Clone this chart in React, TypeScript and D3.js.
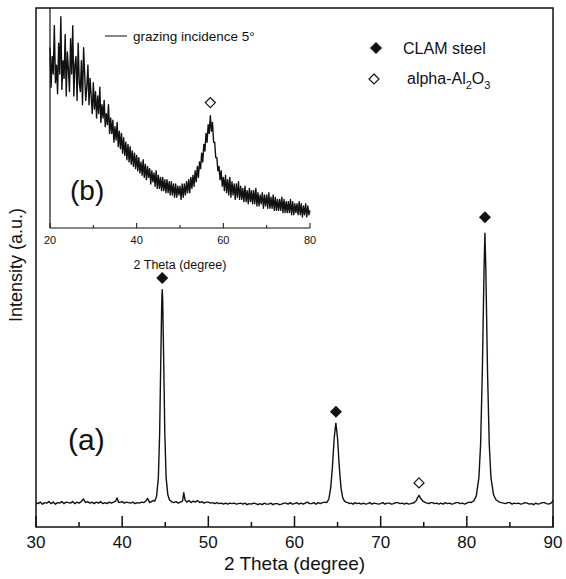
import React from "react";
import * as d3 from "d3";

// Main pattern: [2theta, intensity]
const mainPattern: [number, number][] = [
  [30.0, 47], [30.25, 45], [30.5, 48], [30.75, 44], [31.0, 47], [31.25, 46], [31.5, 49], [31.75, 45],
  [32.0, 48], [32.25, 44], [32.5, 47], [32.75, 46], [33.0, 49], [33.25, 45], [33.5, 48], [33.75, 47],
  [34.0, 46], [34.25, 49], [34.5, 45], [34.75, 48], [35.0, 46], [35.25, 49], [35.5, 54], [35.75, 47],
  [36.0, 49], [36.25, 46], [36.5, 48], [36.75, 45], [37.0, 48], [37.25, 46], [37.5, 49], [37.75, 45],
  [38.0, 47], [38.25, 45], [38.5, 48], [38.75, 46], [39.0, 48], [39.25, 50], [39.4, 56], [39.6, 47],
  [40.0, 49], [40.25, 46], [40.5, 48], [40.75, 47], [41.0, 46], [41.25, 48], [41.5, 45], [41.75, 47],
  [42.0, 46], [42.25, 48], [42.5, 47], [42.75, 50], [42.95, 55], [43.2, 47], [43.4, 49], [43.6, 51],
  [43.8, 50], [44.0, 60], [44.2, 95], [44.35, 180], [44.5, 340], [44.6, 440], [44.65, 457],
  [44.7, 440], [44.8, 340], [44.95, 180], [45.1, 95], [45.3, 62], [45.5, 52], [45.8, 48],
  [46.0, 47], [46.25, 49], [46.5, 46], [46.75, 48], [47.0, 50], [47.15, 66], [47.3, 52], [47.5, 48],
  [47.75, 51], [48.0, 47], [48.25, 50], [48.5, 48], [48.75, 51], [49.0, 47], [49.25, 49], [49.5, 46],
  [49.75, 48], [50.0, 48], [50.25, 46], [50.5, 47], [50.75, 45], [51.0, 47], [51.25, 45], [51.5, 46],
  [51.75, 44], [52.0, 46], [52.25, 44], [52.5, 46], [52.75, 45], [53.0, 46], [53.25, 44], [53.5, 45],
  [53.75, 46], [54.0, 44], [54.25, 46], [54.5, 43], [54.75, 45], [55.0, 44], [55.25, 46], [55.5, 45],
  [55.75, 43], [56.0, 45], [56.25, 43], [56.5, 46], [56.75, 44], [57.0, 44], [57.25, 46], [57.5, 43],
  [57.75, 45], [58.0, 45], [58.25, 43], [58.5, 44], [58.75, 46], [59.0, 46], [59.25, 44], [59.5, 47],
  [59.75, 44], [60.0, 45], [60.25, 47], [60.5, 44], [60.75, 46], [61.0, 44], [61.25, 46], [61.5, 48],
  [61.75, 45], [62.0, 45], [62.25, 47], [62.5, 44], [62.75, 47], [63.0, 45], [63.25, 47], [63.5, 48],
  [63.65, 47],
  [63.8, 48], [64.0, 55], [64.2, 75], [64.4, 115], [64.6, 170], [64.8, 200], [65.0, 170],
  [65.2, 115], [65.4, 75], [65.6, 56], [65.8, 50], [66.0, 48], [66.2, 47],
  [66.4, 45], [66.6, 46], [66.8, 44], [67.0, 47], [67.25, 45], [67.5, 46], [67.75, 44], [68.0, 46],
  [68.25, 44], [68.5, 45], [68.75, 47], [69.0, 44], [69.25, 46], [69.5, 45], [69.75, 44], [70.0, 45],
  [70.25, 47], [70.5, 44], [70.75, 46], [71.0, 46], [71.25, 44], [71.5, 45], [71.75, 47], [72.0, 47],
  [72.25, 45], [72.5, 46], [72.75, 44], [73.0, 46], [73.25, 44], [73.5, 45], [73.65, 46],
  [73.8, 46], [74.1, 50], [74.3, 57], [74.45, 61], [74.6, 56], [74.9, 50], [75.2, 47],
  [75.4, 46], [75.6, 45], [75.8, 47], [76.0, 47], [76.25, 45], [76.5, 46], [76.75, 44], [77.0, 46],
  [77.25, 44], [77.5, 47], [77.75, 45], [78.0, 46], [78.25, 44], [78.5, 45], [78.75, 47], [79.0, 47],
  [79.25, 45], [79.5, 46], [79.75, 44], [80.0, 46], [80.25, 48], [80.5, 47], [80.65, 49],
  [80.8, 50], [81.1, 60], [81.4, 95], [81.6, 160], [81.8, 300], [82.0, 500], [82.1, 566],
  [82.2, 500], [82.4, 300], [82.6, 160], [82.8, 95], [83.1, 62], [83.4, 52], [83.8, 48],
  [84.0, 47], [84.25, 46], [84.5, 45], [84.75, 47], [85.0, 47], [85.25, 44], [85.5, 46], [85.75, 45],
  [86.0, 46], [86.25, 44], [86.5, 45], [86.75, 47], [87.0, 46], [87.25, 44], [87.5, 45], [87.75, 43],
  [88.0, 46], [88.25, 44], [88.5, 45], [88.75, 47], [89.0, 47], [89.25, 45], [89.5, 44], [89.75, 46],
  [89.9, 48], [90.0, 52],
];

// Inset pattern (grazing incidence 5°)
const insetPattern: [number, number][] = [
  [20.0, 82], [20.25, 64], [20.5, 78], [20.75, 70], [21.0, 92], [21.25, 66], [21.5, 74], [21.75, 61],
  [22.0, 84], [22.25, 70], [22.5, 96], [22.75, 63], [23.0, 76], [23.25, 68], [23.5, 88], [23.75, 60],
  [24.0, 80], [24.25, 72], [24.5, 62], [24.75, 86], [25.0, 70], [25.25, 92], [25.5, 60], [25.75, 74],
  [26.0, 78], [26.25, 58], [26.5, 84], [26.75, 66], [27.0, 62], [27.25, 76], [27.5, 56], [27.75, 82],
  [28.0, 70], [28.25, 58], [28.5, 64], [28.75, 74], [29.0, 56], [29.25, 68], [29.5, 60], [29.75, 52],
  [30.0, 66], [30.25, 54], [30.5, 62], [30.75, 50], [31.0, 60], [31.25, 52], [31.5, 64], [31.75, 48],
  [32.0, 56], [32.25, 50], [32.5, 58], [32.75, 46], [33.0, 52], [33.25, 47], [33.5, 56], [33.75, 43],
  [34.0, 50], [34.25, 43], [34.5, 49], [34.75, 39], [35.0, 46], [35.25, 40], [35.5, 48], [35.75, 37],
  [36.0, 44], [36.25, 36], [36.5, 43], [36.75, 34], [37.0, 41], [37.25, 33], [37.5, 39], [37.75, 31],
  [38.0, 38], [38.25, 30], [38.5, 37], [38.75, 29], [39.0, 35], [39.25, 28], [39.5, 34], [39.75, 27],
  [40.0, 33], [40.25, 26], [40.5, 32], [40.75, 25], [41.0, 30], [41.25, 24], [41.5, 31], [41.75, 23],
  [42.0, 29], [42.25, 22], [42.5, 28], [42.75, 23], [43.0, 27], [43.25, 20], [43.5, 26], [43.75, 21],
  [44.0, 25], [44.25, 19], [44.5, 26], [44.75, 18], [45.0, 24], [45.25, 18], [45.5, 23], [45.75, 17],
  [46.0, 23], [46.25, 17], [46.5, 22], [46.75, 16], [47.0, 22], [47.25, 16], [47.5, 21], [47.75, 15],
  [48.0, 21], [48.25, 15], [48.5, 20], [48.75, 14], [49.0, 20], [49.25, 14], [49.5, 19], [49.75, 15],
  [50.0, 19], [50.25, 13], [50.5, 20], [50.75, 14], [51.0, 20], [51.25, 15], [51.5, 21], [51.75, 16],
  [52.0, 22], [52.25, 16], [52.5, 23], [52.75, 18], [53.0, 24], [53.25, 19], [53.5, 26], [53.75, 21],
  [54.0, 28], [54.25, 23], [54.5, 30], [54.75, 27], [55.0, 34], [55.25, 30], [55.5, 38], [55.75, 35],
  [56.0, 43], [56.25, 39], [56.5, 47], [56.75, 43], [57.0, 51], [57.25, 44], [57.5, 48], [57.75, 39],
  [58.0, 39], [58.25, 32], [58.5, 32], [58.75, 26], [59.0, 28], [59.25, 22], [59.5, 26], [59.75, 19],
  [60.0, 23], [60.25, 17], [60.5, 24], [60.75, 16], [61.0, 22], [61.25, 15], [61.5, 23], [61.75, 14],
  [62.0, 21], [62.25, 15], [62.5, 20], [62.75, 13], [63.0, 20], [63.25, 14], [63.5, 21], [63.75, 13],
  [64.0, 19], [64.25, 13], [64.5, 18], [64.75, 12], [65.0, 19], [65.25, 12], [65.5, 17], [65.75, 11],
  [66.0, 18], [66.25, 12], [66.5, 17], [66.75, 11], [67.0, 17], [67.25, 11], [67.5, 18], [67.75, 10],
  [68.0, 16], [68.25, 10], [68.5, 15], [68.75, 11], [69.0, 16], [69.25, 9], [69.5, 15], [69.75, 10],
  [70.0, 15], [70.25, 9], [70.5, 16], [70.75, 9], [71.0, 14], [71.25, 9], [71.5, 15], [71.75, 8],
  [72.0, 14], [72.25, 8], [72.5, 13], [72.75, 8], [73.0, 13], [73.25, 8], [73.5, 14], [73.75, 7],
  [74.0, 13], [74.25, 7], [74.5, 12], [74.75, 7], [75.0, 12], [75.25, 7], [75.5, 13], [75.75, 6],
  [76.0, 12], [76.25, 6], [76.5, 11], [76.75, 7], [77.0, 11], [77.25, 6], [77.5, 12], [77.75, 6],
  [78.0, 11], [78.25, 5], [78.5, 10], [78.75, 6], [79.0, 11], [79.25, 5], [79.5, 10], [79.75, 6],
  [80.0, 8],
];

const clamMarkers: [number, number][] = [[44.65, 480], [64.81, 222], [82.1, 597]];
const aluminaMarkers: [number, number][] = [[74.45, 85]];
const insetAluminaMarkers: [number, number][] = [[57.0, 57]];

const mainMajorTicks = [30, 40, 50, 60, 70, 80, 90];
const mainMinorTicks = [35, 45, 55, 65, 75, 85];
const insetMajorTicks = [20, 40, 60, 80];
const insetMinorTicks = [30, 50, 70];

const FONT = "'Liberation Sans', Arial, sans-serif";
const INK = "#111";

export default function App() {
  const W = 566, H = 579;
  const m = { left: 36, right: 553, top: 8, bottom: 527 };
  const x = d3.scaleLinear().domain([30, 90]).range([m.left, m.right]);
  const y = d3.scaleLinear().domain([0, 1000]).range([m.bottom, m.top]);

  const ins = { left: 50, right: 310, top: 8, bottom: 228 };
  const xi = d3.scaleLinear().domain([20, 80]).range([ins.left, ins.right]);
  const yi = d3.scaleLinear().domain([0, 100]).range([ins.bottom, ins.top]);

  const mainLine = d3.line<[number, number]>().x(d => x(d[0])).y(d => y(d[1]));
  const insetLine = d3.line<[number, number]>().x(d => xi(d[0])).y(d => yi(d[1]));

  const diamond = (cx: number, cy: number, r: number) =>
    `M${cx},${cy - r}L${cx + r},${cy}L${cx},${cy + r}L${cx - r},${cy}Z`;

  return (
    <svg width={W} height={H} style={{ position: "absolute", left: 0, top: 0, background: "#fff" }}
      fontFamily={FONT}>
      <rect x={0} y={0} width={W} height={H} fill="#fff" />
      {/* main frame */}
      <rect x={m.left} y={m.top} width={m.right - m.left} height={m.bottom - m.top}
        fill="none" stroke={INK} strokeWidth={1.5} />
      {mainMajorTicks.map(t => (
        <g key={"M" + t}>
          <line x1={x(t)} x2={x(t)} y1={m.bottom} y2={m.bottom - 11} stroke={INK} strokeWidth={1.5} />
          <text x={x(t)} y={548} fontSize={17} textAnchor="middle" fill={INK}>{t}</text>
        </g>
      ))}
      {mainMinorTicks.map(t => (
        <line key={"m" + t} x1={x(t)} x2={x(t)} y1={m.bottom} y2={m.bottom - 5} stroke={INK} strokeWidth={1.5} />
      ))}
      <text x={(m.left + m.right) / 2} y={570} fontSize={19} textAnchor="middle" fill={INK}>2 Theta (degree)</text>
      <text transform={`translate(22,${265}) rotate(-90)`} fontSize={18} textAnchor="middle" fill={INK}>Intensity (a.u.)</text>

      <path d={mainLine(mainPattern) || ""} fill="none" stroke={INK} strokeWidth={1.4} strokeLinejoin="round" />
      {clamMarkers.map((d, i) => (
        <path key={"c" + i} d={diamond(x(d[0]), y(d[1]), 6)} fill={INK} />
      ))}
      {aluminaMarkers.map((d, i) => (
        <path key={"a" + i} d={diamond(x(d[0]), y(d[1]), 5)} fill="#fff" stroke={INK} strokeWidth={1.2} />
      ))}
      <text x={68} y={450} fontSize={30} fill={INK}>(a)</text>

      {/* legend */}
      <path d={diamond(376, 48, 6)} fill={INK} />
      <text x={403} y={54} fontSize={16} fill={INK}>CLAM steel</text>
      <path d={diamond(374, 79, 5)} fill="#fff" stroke={INK} strokeWidth={1.2} />
      <text x={407} y={84} fontSize={16} fill={INK}>
        alpha-Al<tspan fontSize={11} dy={5}>2</tspan><tspan dy={-5}>O</tspan><tspan fontSize={11} dy={5}>3</tspan>
      </text>

      {/* inset */}
      <line x1={ins.left} x2={ins.left} y1={ins.top} y2={ins.bottom} stroke={INK} strokeWidth={1.2} />
      <line x1={ins.left} x2={ins.right} y1={ins.bottom} y2={ins.bottom} stroke={INK} strokeWidth={1.2} />
      {insetMajorTicks.map(t => (
        <g key={"I" + t}>
          <line x1={xi(t)} x2={xi(t)} y1={ins.bottom} y2={ins.bottom - 5} stroke={INK} strokeWidth={1} />
          <text x={xi(t)} y={244} fontSize={11} textAnchor="middle" fill={INK}>{t}</text>
        </g>
      ))}
      {insetMinorTicks.map(t => (
        <line key={"i" + t} x1={xi(t)} x2={xi(t)} y1={ins.bottom} y2={ins.bottom - 3} stroke={INK} strokeWidth={1} />
      ))}
      <text x={(ins.left + ins.right) / 2} y={269} fontSize={12.5} textAnchor="middle" fill={INK}>2 Theta (degree)</text>
      <path d={insetLine(insetPattern) || ""} fill="none" stroke={INK} strokeWidth={1.4} strokeLinejoin="round" />
      {insetAluminaMarkers.map((d, i) => (
        <path key={"ia" + i} d={diamond(xi(d[0]), yi(d[1]), 5)} fill="#fff" stroke={INK} strokeWidth={1.2} />
      ))}
      <line x1={105} x2={127} y1={36} y2={36} stroke={INK} strokeWidth={1} />
      <text x={133} y={41} fontSize={13.5} fill={INK}>grazing incidence 5°</text>
      <text x={70} y={200} fontSize={28} fill={INK}>(b)</text>
    </svg>
  );
}
